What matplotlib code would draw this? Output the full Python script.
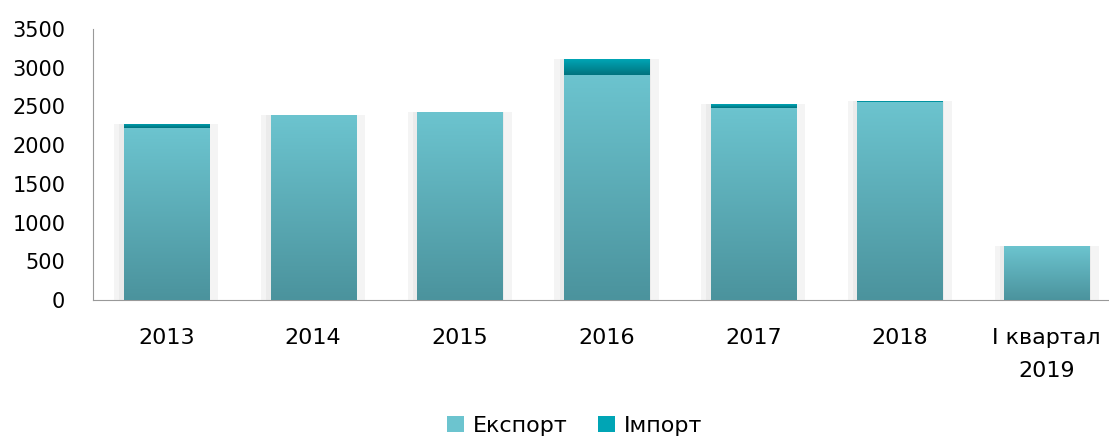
import matplotlib

matplotlib.use("Agg")
import matplotlib.pyplot as plt
import numpy as np
from matplotlib.colors import LinearSegmentedColormap

categories = ["2013", "2014", "2015", "2016", "2017", "2018", "I квартал\n2019"]
export = [2215, 2385, 2423, 2909, 2484, 2561, 695]
imports = [63, 10, 9, 206, 50, 12, 0]
series_names = ["Експорт", "Імпорт"]

EXP_TOP, EXP_BOT = "#6cc4cf", "#4b939d"
IMP_TOP, IMP_BOT = "#00a5b5", "#00737e"


def gradient_fill(ax, bars, top, bottom):
    cmap = LinearSegmentedColormap.from_list("g", [bottom, top])
    grad = np.linspace(0, 1, 256).reshape(-1, 1)
    for b in bars:
        x0, y0 = b.get_x(), b.get_y()
        w, h = b.get_width(), b.get_height()
        if h <= 0:
            continue
        im = ax.imshow(grad, cmap=cmap, origin="lower", aspect="auto",
                       extent=(x0, x0 + w, y0, y0 + h), zorder=3)
        im.set_clip_path(b)


fig = plt.figure(figsize=(11.09, 4.38), dpi=100)
ax = fig.add_axes([93 / 1109, 138 / 438, 1027 / 1109, 271 / 438])

x = np.arange(len(categories))
width = 0.58
total = np.array(export) + np.array(imports)

# soft shadow behind bars
ax.bar(x, total + 20, width + 0.13, bottom=-20, color="#f4f4f4", zorder=1)
ax.bar(x - 0.01, total, width + 0.04, color="#ebebeb", zorder=1)

b1 = ax.bar(x, export, width, color=EXP_TOP, label=series_names[0], zorder=2)
b2 = ax.bar(x, imports, width, bottom=export, color=IMP_TOP, label=series_names[1], zorder=2)
gradient_fill(ax, b1, EXP_TOP, EXP_BOT)
gradient_fill(ax, b2, IMP_TOP, IMP_BOT)

ax.set_xlim(-0.5, len(categories) - 0.5)
ax.set_ylim(0, 3500)
ax.set_yticks(np.arange(0, 3501, 500))
ax.set_xticks(x)
ax.set_xticklabels(categories, fontsize=16, linespacing=1.85)
ax.tick_params(axis="both", length=0, colors="#000000")
ax.tick_params(axis="y", pad=20, labelsize=15)
ax.tick_params(axis="x", pad=20)
for s in ["top", "right"]:
    ax.spines[s].set_visible(False)
ax.spines["left"].set_color("#999999")
ax.spines["bottom"].set_color("#999999")
ax.set_facecolor("none")

ax.legend(loc="center", bbox_to_anchor=(0.469, -0.465), ncol=2,
          frameon=False, fontsize=16, handlelength=0.75, handleheight=0.75,
          handletextpad=0.4, columnspacing=1.4)

fig.savefig("out.png", dpi=100)
